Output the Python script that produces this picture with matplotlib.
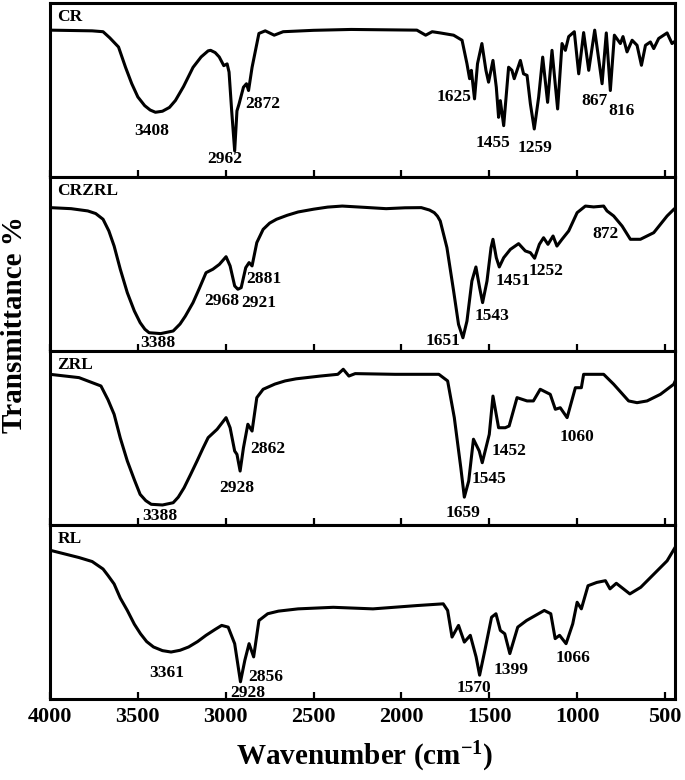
import matplotlib
matplotlib.use('Agg')
import matplotlib.pyplot as plt

plt.rcParams['font.family'] = 'Liberation Serif'
plt.rcParams['mathtext.fontset'] = 'custom'
plt.rcParams['mathtext.rm'] = 'Liberation Serif'
plt.rcParams['mathtext.bf'] = 'Liberation Serif:bold'

# traced spectra: wavenumber (cm-1) and transmittance (% of panel height)
cr_wn = [4000, 3760, 3698, 3660, 3610, 3570, 3535, 3500, 3461, 3430, 3400, 3360, 3320, 3286,
         3240, 3186, 3140, 3100, 3086, 3060, 3037, 3011, 2992, 2981, 2966,
         2949, 2936, 2924, 2899, 2882, 2870, 2850, 2811, 2775, 2724, 2673, 2500, 2286, 2100,
         1912, 1862, 1825, 1779, 1703, 1655, 1627, 1612, 1602, 1584, 1567, 1542, 1519, 1504,
         1479, 1460, 1447, 1437, 1418, 1390, 1371, 1358, 1323, 1305, 1285, 1266, 1244, 1219,
         1196, 1168, 1143, 1111, 1086, 1067, 1048, 1016, 991, 963, 934, 900, 858, 834, 811,
         788, 754, 739, 716, 687, 659, 634, 611, 583, 564, 536, 488, 460, 443]
cr_t = [84.4, 84.0, 83.5, 80.0, 74.7, 63.0, 53.7, 46.0, 41.0, 38.5, 37.2, 37.8, 40.0, 44.0,
        52.0, 63.0, 69.0, 72.5, 72.8, 71.5, 69.0, 64.0, 65.0, 60.3, 38.0,
        15.0, 38.0, 42.0, 51.6, 53.6, 49.7, 63.0, 82.5, 84.0, 81.5, 83.5, 84.3, 84.8, 84.6,
        84.4, 81.5, 83.5, 82.8, 81.5, 78.6, 65.1, 56.5, 61.3, 44.9, 65.1, 76.7, 61.3, 54.5,
        67.0, 51.6, 34.3, 43.9, 29.5, 63.1, 61.3, 56.5, 67.0, 59.3, 58.4, 42.0, 27.6, 45.9,
        68.9, 42.9, 72.8, 39.1, 76.7, 72.8, 80.7, 83.5, 59.3, 83.0, 61.3, 84.4, 53.6, 82.8, 49.7,
        81.5, 76.7, 80.7, 71.9, 78.6, 75.7, 64.2, 75.7, 77.6, 73.8, 79.6, 82.8, 76.7, 78.0]

crzrl_wn = [4000, 3880, 3785, 3740, 3698, 3665, 3635, 3600, 3560, 3520, 3487, 3460, 3436, 3370,
            3299, 3260, 3230, 3186, 3150, 3112, 3073, 3036,
            2998, 2975, 2949, 2931, 2912, 2886, 2867, 2850, 2823, 2787, 2750, 2711, 2650, 2588,
            2500, 2420, 2337, 2200, 2087, 1980, 1887, 1840, 1813, 1795,
            1779, 1741, 1703, 1675, 1650, 1627, 1599, 1576, 1555, 1538, 1513, 1490,
            1479, 1460, 1443, 1418, 1380, 1333, 1295, 1266, 1242, 1215, 1191, 1166, 1137, 1115,
            1086, 1048, 1000, 953, 906, 849, 830, 792, 744, 697, 640, 564, 488, 450, 443]
crzrl_t = [82.4, 81.8, 80.5, 79.0, 75.7, 69.0, 60.3, 47.0, 33.5, 23.0, 16.3, 12.5, 10.5, 10.0,
           11.5, 15.5, 20.0, 27.8, 36.0, 45.0, 47.0, 49.8,
           54.2, 48.9, 37.4, 35.5, 36.4, 47.9, 50.8, 48.9, 62.3, 69.9, 73.5, 75.7, 78.0, 79.9,
           81.5, 82.7, 83.3, 82.5, 81.8, 82.3, 82.4, 81.0, 79.5, 77.5,
           74.7, 59.4, 34.5, 15.3, 7.6, 17.2, 40.2, 48.3, 36.4, 27.8, 40.2, 59.4,
           64.2, 53.6, 48.3, 53.6, 58.4, 61.7, 57.5, 56.5, 53.3, 61.3, 65.1, 61.3, 66.1, 60.3,
           64.2, 69.0, 79.5, 83.3, 82.8, 83.3, 80.5, 77.6, 71.8, 64.2, 64.2, 68.0, 77.6, 81.4, 82.0]

zrl_wn = [4000, 3835, 3710, 3670, 3635, 3600, 3560, 3520, 3487, 3455, 3424, 3360, 3299, 3270,
          3237, 3200, 3163, 3130, 3100, 3049, 2998,
          2975, 2949, 2936, 2918, 2899, 2874, 2850, 2823, 2787, 2720, 2662, 2600, 2462, 2362,
          2331, 2299, 2263, 2037, 1787, 1737, 1699, 1662, 1642, 1617, 1590, 1557, 1540, 1500,
          1479, 1447, 1409, 1387, 1342, 1285, 1249, 1210, 1153, 1124, 1096, 1057, 1010, 976,
          963, 849, 792, 707, 659, 602, 526, 450, 443]
zrl_t = [86.6, 84.7, 79.9, 72.0, 63.6, 50.0, 36.8, 26.0, 17.6, 14.0, 11.9, 11.5, 12.8, 16.0,
         21.4, 29.0, 36.8, 44.0, 50.2, 55.0, 61.7,
         55.9, 42.5, 40.6, 31.0, 44.4, 57.9, 54.0, 73.2, 78.0, 81.0, 82.8, 84.0, 85.6, 86.6,
         89.5, 85.6, 87.0, 86.6, 86.6, 82.8, 61.7, 32.9, 16.0, 25.3, 49.3, 42.5, 35.8, 52.1,
         74.1, 55.9, 55.9, 56.9, 73.2, 71.3, 71.3, 78.0, 75.1, 66.5, 67.4, 61.7, 78.9, 78.9,
         86.6, 86.6, 80.9, 71.3, 70.3, 71.3, 75.1, 80.9, 82.5]

rl_wn = [4000, 3835, 3760, 3698, 3670, 3635, 3600, 3560, 3520, 3485, 3450, 3411, 3360, 3311,
         3260, 3211, 3160, 3112, 3060, 3023, 2986, 2949, 2916,
         2891, 2867, 2841, 2811, 2761, 2700, 2588, 2388, 2162, 1912, 1762, 1737, 1712, 1675,
         1642, 1608, 1575, 1555, 1525, 1487, 1462, 1437, 1412, 1383, 1338, 1288, 1187, 1150,
         1125, 1100, 1063, 1025, 1000, 976, 938, 888, 839, 813, 777, 700, 638, 563, 488, 443]
rl_t = [85.5, 81.3, 79.0, 74.7, 71.0, 66.1, 58.0, 50.9, 43.0, 37.5, 33.0, 29.9, 27.8, 27.0,
        28.0, 29.9, 33.0, 36.6, 40.0, 42.3, 41.3, 31.8, 9.9,
        22.3, 31.8, 24.2, 45.1, 49.0, 50.5, 51.8, 52.7, 51.8, 53.7, 54.7, 50.9, 35.6, 42.3,
        32.7, 36.6, 24.2, 13.7, 28.0, 47.0, 49.0, 39.4, 37.5, 26.1, 41.3, 45.1, 50.9, 49.0,
        34.7, 36.6, 31.8, 43.2, 55.6, 51.8, 65.1, 67.0, 68.0, 63.3, 66.5, 60.4, 64.2, 71.8,
        79.4, 87.0]

samples = ['CR', 'CRZRL', 'ZRL', 'RL']
spectra = [(cr_wn, cr_t), (crzrl_wn, crzrl_t), (zrl_wn, zrl_t), (rl_wn, rl_t)]

# peak labels per panel: text, x (cm-1), y (% of panel)
peaks = [
    [('3408', 3419, 26.6), ('2962', 3003, 10.4), ('2872', 2787, 42.2), ('1625', 1699, 46.2),
     ('1455', 1477, 19.7), ('1259', 1238, 16.8), ('867', 902, 43.4), ('816', 748, 38.2)],
    [('3388', 3385, 4.8), ('2968', 3023, 28.7), ('2921', 2811, 27.8), ('2881', 2781, 41.2),
     ('1651', 1762, 5.7), ('1543', 1483, 20.1), ('1451', 1363, 40.2), ('1252', 1175, 46.0),
     ('872', 839, 67.0)],
    [('3388', 3374, 5.2), ('2928', 2935, 21.4), ('2862', 2761, 43.5), ('1659', 1650, 7.1),
     ('1545', 1500, 26.3), ('1452', 1387, 42.5), ('1060', 1000, 50.6)],
    [('3361', 3336, 15.0), ('2928', 2874, 3.6), ('2856', 2773, 12.7), ('1570', 1587, 6.1),
     ('1399', 1375, 16.6), ('1066', 1025, 23.3)],
]

xticks = [4000, 3500, 3000, 2500, 2000, 1500, 1000, 500]

fig, axes = plt.subplots(4, 1, sharex=True, figsize=(6.85, 7.8), dpi=100)
fig.subplots_adjust(left=50/685, right=675/685, bottom=1-699/780, top=1-3/780, hspace=0)

for ax, name, (wn, t), labels in zip(axes, samples, spectra, peaks):
    ax.plot(wn, t, color='black', lw=2.2, solid_joinstyle='round')
    ax.set_xlim(4000, 443)
    ax.set_ylim(0, 100)
    ax.set_yticks([])
    ax.set_xticks(xticks)
    ax.tick_params(axis='x', direction='in', length=5, width=1.6, pad=6,
                   labelsize=16)
    for s in ax.spines.values():
        s.set_linewidth(2.2)
    ax.text(0.012, 0.92, name, transform=ax.transAxes, fontsize=12.5,
            fontweight='bold', ha='left', va='center')
    for txt, x, y in labels:
        ax.text(x, y, txt, fontsize=12.5, fontweight='bold', ha='center', va='center')

for lab in axes[-1].get_xticklabels():
    lab.set_fontweight('bold')

fig.text(15/685, 1-325/780, 'Transmittance %', rotation=90, ha='center', va='center',
         fontsize=21, fontweight='bold')
fig.text(365/685, 1-757/780, r'Wavenumber (cm$\mathbf{^{-1}}$)', ha='center', va='center',
         fontsize=21, fontweight='bold')

fig.savefig('out.png', dpi=100)
